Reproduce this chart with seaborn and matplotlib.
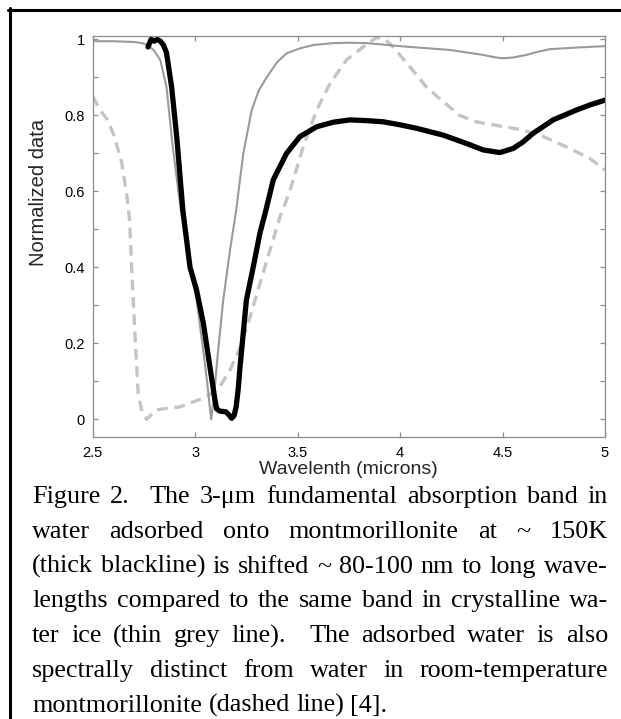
import numpy as np
import pandas as pd
import seaborn as sns
import matplotlib
matplotlib.use("Agg")
import matplotlib.pyplot as plt
from matplotlib.lines import Line2D

# ---------------- data ----------------
ice_x = [2.50, 2.60, 2.70, 2.74, 2.77, 2.80, 2.83, 2.86, 2.89, 2.93, 2.975, 3.007, 3.04,
         3.06, 3.078, 3.09, 3.11, 3.137, 3.17, 3.20, 3.235, 3.276, 3.31, 3.349, 3.40, 3.446,
         3.51, 3.576, 3.674, 3.75, 3.837, 4.0, 4.12, 4.244, 4.33, 4.405, 4.46, 4.50, 4.55,
         4.617, 4.67, 4.73, 4.85, 5.0]
ice_y = [0.995, 0.995, 0.993, 0.99, 0.985, 0.97, 0.945, 0.875, 0.72, 0.55, 0.40, 0.314, 0.18,
         0.09, 0.0, 0.05, 0.17, 0.314, 0.445, 0.55, 0.70, 0.814, 0.865, 0.90, 0.94, 0.963,
         0.976, 0.985, 0.99, 0.991, 0.99, 0.982, 0.977, 0.972, 0.965, 0.959, 0.953, 0.95, 0.952,
         0.959, 0.967, 0.974, 0.978, 0.982]

ads_x = [2.77, 2.785, 2.80, 2.815, 2.83, 2.845, 2.86, 2.885, 2.91, 2.94, 2.975, 3.007, 3.04,
         3.072, 3.097, 3.105, 3.12, 3.15, 3.165, 3.178, 3.19, 3.20, 3.21, 3.219, 3.25, 3.283,
         3.316, 3.345, 3.381, 3.446, 3.511, 3.593, 3.675, 3.755, 3.84, 3.918, 4.0, 4.08, 4.21,
         4.324, 4.405, 4.487, 4.552, 4.60, 4.65, 4.747, 4.861, 4.93, 5.0]
ads_y = [0.98, 1.0, 0.995, 1.0, 0.995, 0.985, 0.965, 0.875, 0.744, 0.55, 0.40, 0.34, 0.253,
         0.138, 0.05, 0.028, 0.022, 0.02, 0.012, 0.003, 0.01, 0.033, 0.08, 0.138, 0.314, 0.40,
         0.49, 0.55, 0.63, 0.70, 0.744, 0.77, 0.782, 0.788, 0.786, 0.783, 0.775, 0.766, 0.748,
         0.726, 0.709, 0.702, 0.713, 0.73, 0.753, 0.788, 0.814, 0.828, 0.84]

room_x = [2.50, 2.536, 2.57, 2.60, 2.64, 2.665, 2.68, 2.69, 2.706, 2.722, 2.74, 2.763, 2.79,
          2.812, 2.86, 2.926, 2.99, 3.056, 3.12, 3.17, 3.22, 3.268, 3.316, 3.365, 3.414, 3.446,
          3.479, 3.527, 3.593, 3.658, 3.739, 3.82, 3.885, 3.93, 3.966, 4.047, 4.128, 4.21, 4.29,
          4.37, 4.487, 4.585, 4.682, 4.812, 4.925, 5.0]
room_y = [0.85, 0.814, 0.79, 0.753, 0.68, 0.595, 0.525, 0.40, 0.226, 0.068, 0.02, 0.0, 0.015,
          0.025, 0.029, 0.033, 0.046, 0.059, 0.086, 0.13, 0.19, 0.27, 0.358, 0.445, 0.533, 0.577,
          0.63, 0.717, 0.814, 0.884, 0.946, 0.98, 1.005, 0.998, 0.98, 0.928, 0.875, 0.836, 0.80,
          0.783, 0.772, 0.763, 0.748, 0.717, 0.687, 0.656]

x_ticks = [2.5, 3, 3.5, 4, 4.5, 5]
x_ticklabels = ["2.5", "3", "3.5", "4", "4.5", "5"]
y_ticks = [0, 0.2, 0.4, 0.6, 0.8, 1.0]
y_ticklabels = ["0", "0.2", "0.4", "0.6", "0.8", "1"]
y_minor = [0.1, 0.3, 0.5, 0.7, 0.9]

x_label = "Wavelenth (microns)"
y_label = "Normalized data"

caption_lines = [
    "Figure 2.  The 3-\u03bcm fundamental absorption band in",
    "water adsorbed onto montmorillonite at ~ 150K",
    "(thick blackline) is shifted ~ 80-100 nm to long wave-",
    "lengths compared to the same band in crystalline wa-",
    "ter ice (thin grey line).  The adsorbed water is also",
    "spectrally distinct from water in room-temperature",
    "montmorillonite (dashed line) [4].",
]

# ---------------- figure ----------------
sns.set_style("white")
plt.rcParams["font.family"] = ["Liberation Sans", "DejaVu Sans"]

W, H = 621, 719
fig = plt.figure(figsize=(W / 100, H / 100), dpi=100)
fig.patch.set_facecolor("white")

ax_l, ax_r, ax_t, ax_b = 92.7, 605.0, 35.7, 437.3
ax = fig.add_axes([ax_l / W, 1 - ax_b / H, (ax_r - ax_l) / W, (ax_b - ax_t) / H])

df_room = pd.DataFrame({"x": room_x, "y": room_y})
df_ice = pd.DataFrame({"x": ice_x, "y": ice_y})
df_ads = pd.DataFrame({"x": ads_x, "y": ads_y})

sns.lineplot(data=df_room, x="x", y="y", ax=ax, color="#c4c4c4", linewidth=2.4,
             sort=False, estimator=None, dashes=False)
ax.lines[-1].set_dashes([3.2, 2.0])
ax.lines[-1].set_dash_capstyle("butt")
sns.lineplot(data=df_ice, x="x", y="y", ax=ax, color="#9a9a9a", linewidth=1.5,
             sort=False, estimator=None)
sns.lineplot(data=df_ads, x="x", y="y", ax=ax, color="black", linewidth=3.8,
             sort=False, estimator=None)

ax.set_xlim(2.5, 5.0)
ax.set_ylim(-0.047, 1.0095)

ax.set_xticks(x_ticks)
ax.set_xticklabels(x_ticklabels)
ax.set_yticks(y_ticks)
ax.set_yticklabels(y_ticklabels)
ax.set_yticks(y_minor, minor=True)

spine_col = "#8c8c8c"
for s in ax.spines.values():
    s.set_color(spine_col)
    s.set_linewidth(0.9)
    s.set_visible(True)
ax.tick_params(which="both", direction="in", length=3.6, width=0.9, color=spine_col,
               top=True, right=True, left=True, bottom=True, labelsize=10.5,
               labelcolor="black")
ax.tick_params(axis="y", which="major", pad=5.5)
ax.tick_params(axis="x", which="major", pad=6)

ax.set_xlabel(x_label, fontsize=14, labelpad=1)
ax.set_ylabel(y_label, fontsize=14.5, labelpad=12)
ax.yaxis.set_label_coords(-0.088, 0.61)

# ---------------- outer frame ----------------
fig.add_artist(Line2D([9.5 / W, 9.5 / W], [1 - 8 / H, -0.05], transform=fig.transFigure,
                      color="black", linewidth=2.2))
fig.add_artist(Line2D([8 / W, 1.05], [1 - 9.5 / H, 1 - 9.5 / H], transform=fig.transFigure,
                      color="black", linewidth=2.2))

# ---------------- justified caption ----------------
cap_font = dict(family=["Liberation Serif", "DejaVu Serif"], fontsize=18.8, color="black")
fig.canvas.draw()
renderer = fig.canvas.get_renderer()


def tw(s):
    t = fig.text(0, 0, s, **cap_font)
    w = t.get_window_extent(renderer).width
    t.remove()
    return w


space_w = tw("a a") - tw("aa")
left_px, right_px = 32.0, 608.0
base0, step = 503.0, 34.8
for i, line in enumerate(caption_lines):
    words = [w for w in line.split(" ") if w != ""]
    gaps = []
    pos = 0
    cnt = 0
    for s in line.split(" "):
        if s == "":
            cnt += 1
        else:
            if pos > 0:
                gaps.append(cnt + 1)
            cnt = 0
            pos += 1
    widths = [tw(w) for w in words]
    total_units = sum(gaps)
    if i < len(caption_lines) - 1 and total_units > 0:
        unit = (right_px - left_px - sum(widths)) / total_units
    else:
        unit = space_w
    x = left_px
    y = base0 + i * step
    for j, w in enumerate(words):
        fig.text(x / W, 1 - y / H, w, ha="left", va="baseline", **cap_font)
        x += widths[j]
        if j < len(gaps):
            x += gaps[j] * unit

fig.savefig("out.png", dpi=100, facecolor="white")
